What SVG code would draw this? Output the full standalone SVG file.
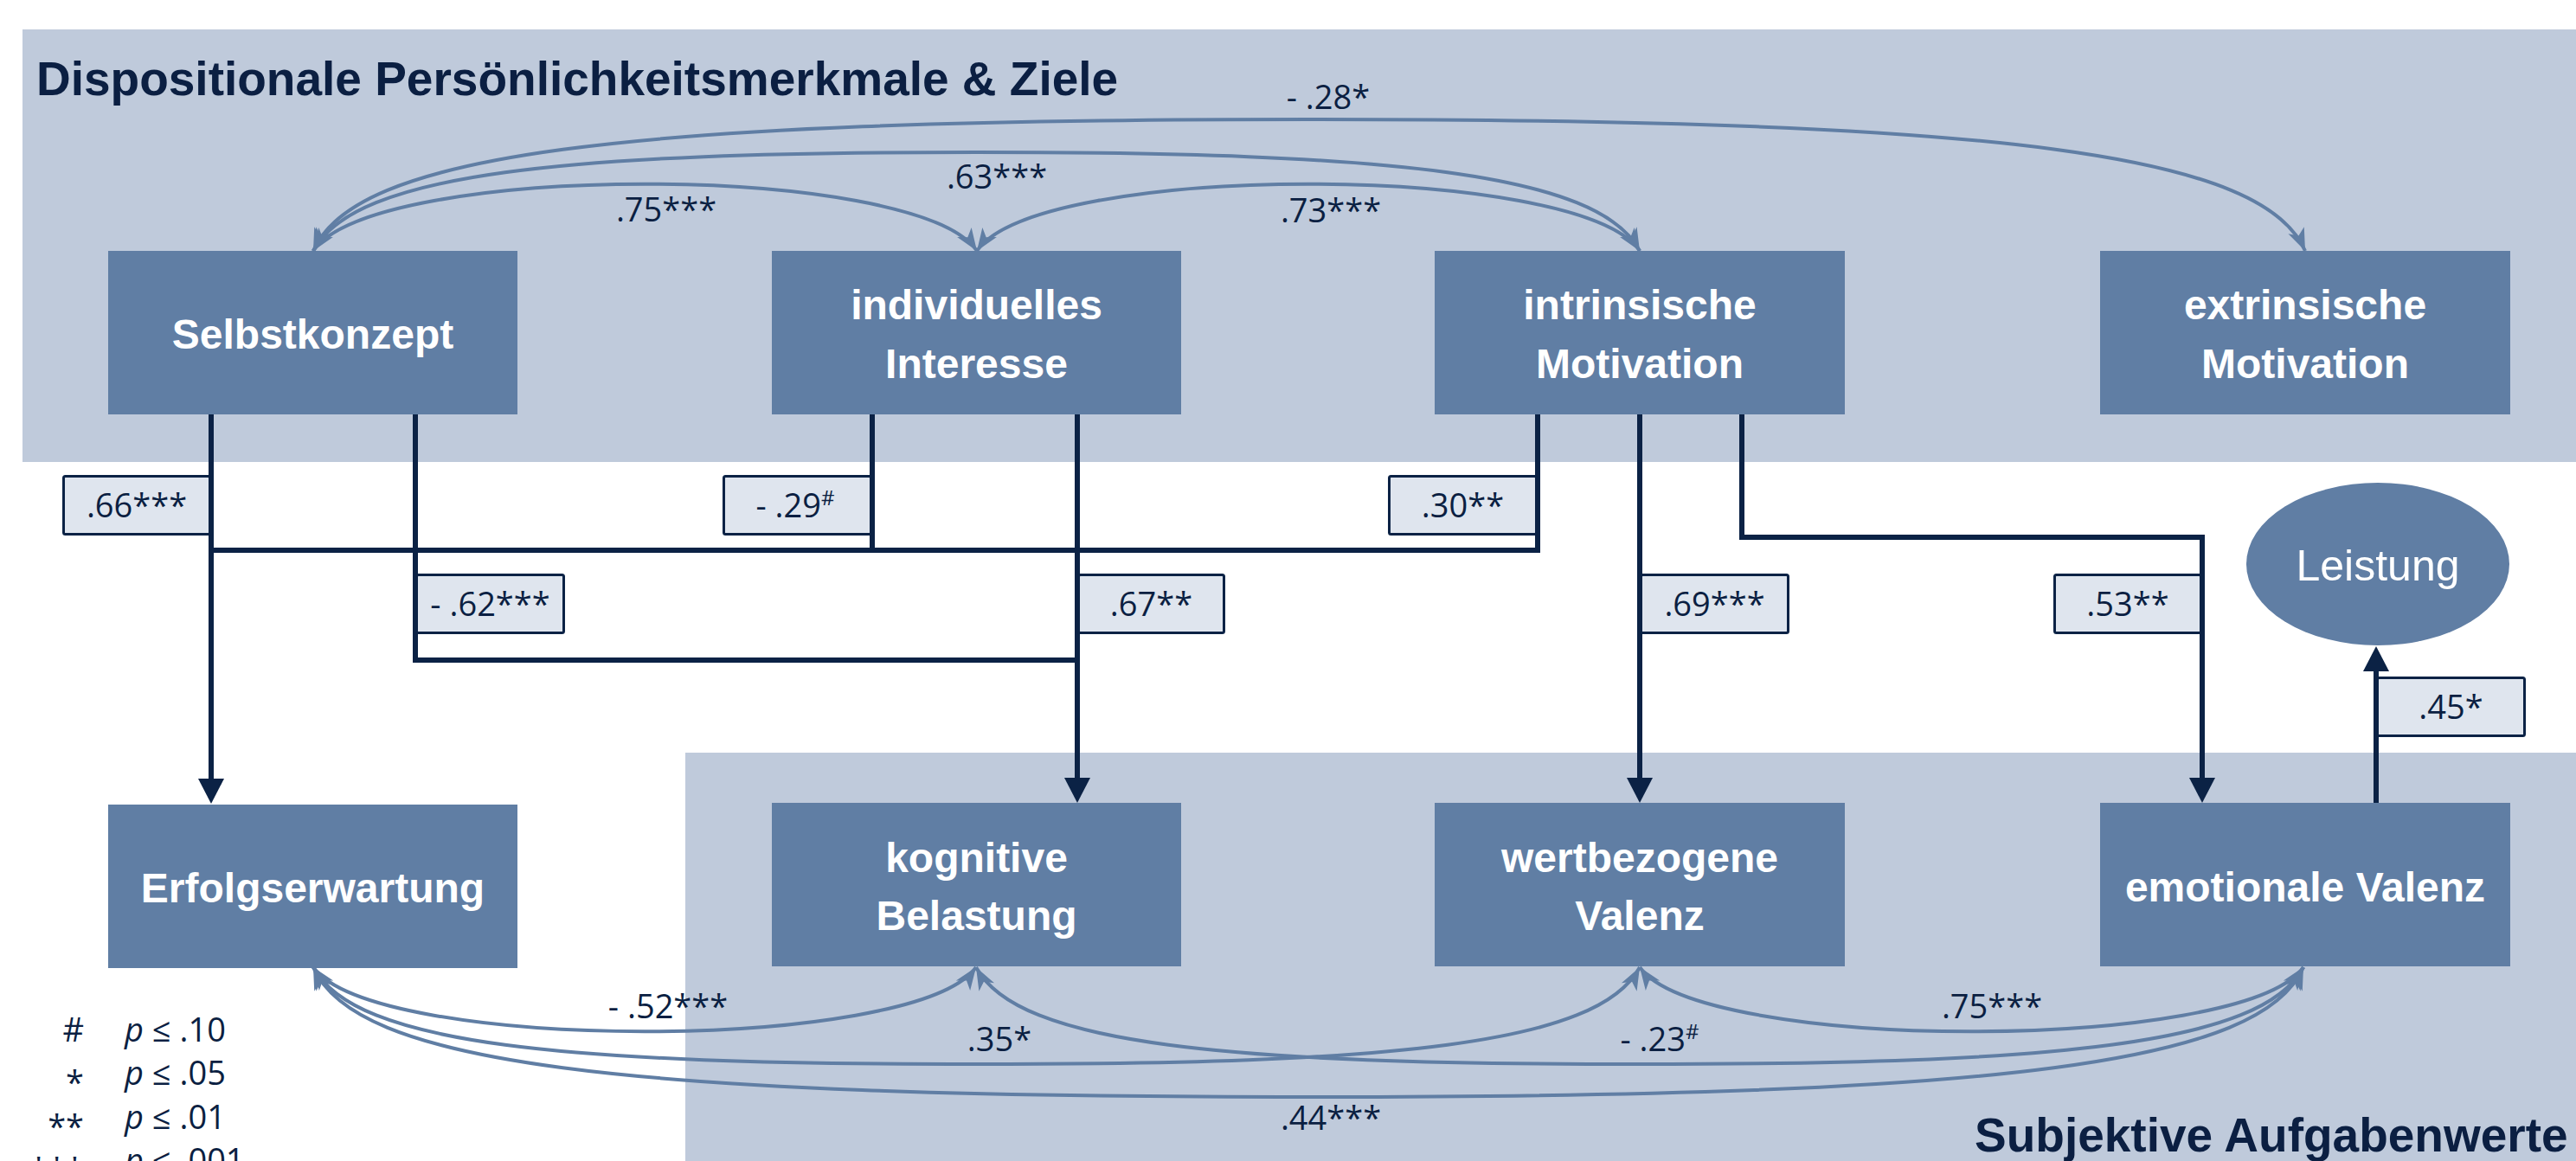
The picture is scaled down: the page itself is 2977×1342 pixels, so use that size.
<svg xmlns="http://www.w3.org/2000/svg" width="2977" height="1342" viewBox="0 0 2977 1342">
<defs>
<style>
.band{fill:#BFCADB}
.node{fill:#607EA4}
.nt{font-family:"Liberation Sans",Arial,sans-serif;font-weight:bold;font-size:48px;fill:#FFFFFF;text-anchor:middle}
.title{font-family:"Liberation Sans",Arial,sans-serif;font-weight:bold;font-size:55px;fill:#0B1F42}
.corr{fill:none;stroke:#607EA4;stroke-width:4;marker-start:url(#stealth);marker-end:url(#stealth)}
.path{fill:none;stroke:#0B2245;stroke-width:6}
.arr{marker-end:url(#ah)}
.lab{font-family:"Open Sans","Liberation Sans",sans-serif;font-size:38px;fill:#0B1F42;text-anchor:middle}
.lbox{fill:#DFE5EE;stroke:#0B2245;stroke-width:3}
.leg{font-family:"Open Sans","Liberation Sans",sans-serif;font-size:38px;fill:#0B1F42}
</style>
<marker id="ah" markerUnits="userSpaceOnUse" markerWidth="32" markerHeight="32" refX="2" refY="15" orient="auto" overflow="visible">
<path d="M0,0 L29,15 L0,30 Z" fill="#0B2245"/>
</marker>
<marker id="stealth" markerUnits="userSpaceOnUse" markerWidth="30" markerHeight="22" refX="26" refY="10" orient="auto-start-reverse" overflow="visible">
<path d="M0,0 L26,10 L0,20 L7,10 Z" fill="#607EA4"/>
</marker>
</defs>
<rect width="2977" height="1342" fill="#FFFFFF"/>
<g id="bands">
<rect class="band" x="26" y="34" width="2951" height="500"/>
<rect class="band" x="792" y="870" width="2185" height="472"/>
<text class="title" x="42" y="110">Dispositionale Persönlichkeitsmerkmale &amp; Ziele</text>
<text class="title" x="2282" y="1331">Subjektive Aufgabenwerte</text>
</g>
<g id="node-selbstkonzept">
<rect class="node" x="125" y="290" width="473" height="189"/>
<text class="nt" x="361.5" y="403">Selbstkonzept</text>
</g>
<g id="node-interesse">
<rect class="node" x="892" y="290" width="473" height="189"/>
<text class="nt" x="1128.5" y="369">individuelles</text>
<text class="nt" x="1128.5" y="437">Interesse</text>
</g>
<g id="node-intrinsisch">
<rect class="node" x="1658" y="290" width="474" height="189"/>
<text class="nt" x="1895" y="369">intrinsische</text>
<text class="nt" x="1895" y="437">Motivation</text>
</g>
<g id="node-extrinsisch">
<rect class="node" x="2427" y="290" width="474" height="189"/>
<text class="nt" x="2664" y="369">extrinsische</text>
<text class="nt" x="2664" y="437">Motivation</text>
</g>
<g id="node-erfolgserwartung">
<rect class="node" x="125" y="930" width="473" height="189"/>
<text class="nt" x="361.5" y="1043">Erfolgserwartung</text>
</g>
<g id="node-kognitiv">
<rect class="node" x="892" y="928" width="473" height="189"/>
<text class="nt" x="1128.5" y="1008">kognitive</text>
<text class="nt" x="1128.5" y="1075">Belastung</text>
</g>
<g id="node-wertbezogen">
<rect class="node" x="1658" y="928" width="474" height="189"/>
<text class="nt" x="1895" y="1008">wertbezogene</text>
<text class="nt" x="1895" y="1075">Valenz</text>
</g>
<g id="node-emotional">
<rect class="node" x="2427" y="928" width="474" height="189"/>
<text class="nt" x="2664" y="1042">emotionale Valenz</text>
</g>
<g id="node-leistung">
<ellipse class="node" cx="2748" cy="652" rx="152" ry="94"/>
<text x="2748" y="671" font-family="Liberation Sans, Arial, sans-serif" font-size="50" fill="#FFFFFF" text-anchor="middle">Leistung</text>
</g>
<g id="connectors">
<path class="corr" d="M362,290 C432,187 1059,187 1129,290"/>
<path class="corr" d="M1129,290 C1199,187 1825,187 1895,290"/>
<path class="corr" d="M362,290 C410,200 650,176 1128,176 C1606,176 1847,200 1895,290"/>
<path class="corr" d="M362,290 C410,180 700,138 1513,138 C2326,138 2616,180 2664,290"/>
<path class="corr" d="M362,1118 C432,1217 1058,1217 1128,1118"/>
<path class="corr" d="M362,1118 C410,1208 650,1230 1128,1230 C1606,1230 1847,1208 1895,1118"/>
<path class="corr" d="M1128,1118 C1176,1208 1417,1230 1895,1230 C2373,1230 2614,1208 2662,1118"/>
<path class="corr" d="M1895,1118 C1965,1217 2592,1217 2662,1118"/>
<path class="corr" d="M362,1118 C410,1228 700,1268 1512,1268 C2324,1268 2614,1228 2662,1118"/>
<path class="path arr" d="M244,479 V902"/>
<path class="path" d="M1777,479 V636 H244"/>
<path class="path" d="M1008,479 V636"/>
<path class="path" d="M480,479 V763 H1245"/>
<path class="path arr" d="M1245,479 V901"/>
<path class="path arr" d="M1895,479 V901"/>
<path class="path arr" d="M2013,479 V621 H2545 V901"/>
<path class="path arr" d="M2746,928 V774"/>
<text class="lab" x="1535" y="126">- .28*</text>
<text class="lab" x="1152" y="218">.63***</text>
<text class="lab" x="770" y="256">.75***</text>
<text class="lab" x="1538" y="257">.73***</text>
<text class="lab" x="772" y="1177">- .52***</text>
<text class="lab" x="1155" y="1215">.35*</text>
<text class="lab" x="1918" y="1215">- .23<tspan font-size="24" dy="-14">#</tspan></text>
<text class="lab" x="2302" y="1177">.75***</text>
<text class="lab" x="1538" y="1306">.44***</text>
<rect class="lbox" x="73.5" y="550.5" width="169" height="67" rx="2"/>
<text class="lab" x="158" y="597.5">.66***</text>
<rect class="lbox" x="836.5" y="550.5" width="170" height="67" rx="2"/>
<text class="lab" x="919" y="597.5">- .29<tspan font-size="24" dy="-14">#</tspan></text>
<rect class="lbox" x="1605.5" y="550.5" width="170" height="67" rx="2"/>
<text class="lab" x="1690.5" y="597.5">.30**</text>
<rect class="lbox" x="481.5" y="664.5" width="170" height="67" rx="2"/>
<text class="lab" x="566.5" y="711.5">- .62***</text>
<rect class="lbox" x="1246.5" y="664.5" width="168" height="67" rx="2"/>
<text class="lab" x="1330.5" y="711.5">.67**</text>
<rect class="lbox" x="1896.5" y="664.5" width="170" height="67" rx="2"/>
<text class="lab" x="1981.5" y="711.5">.69***</text>
<rect class="lbox" x="2374.5" y="664.5" width="169" height="67" rx="2"/>
<text class="lab" x="2459" y="711.5">.53**</text>
<rect class="lbox" x="2747.5" y="783.5" width="170" height="67" rx="2"/>
<text class="lab" x="2832.5" y="830.5">.45*</text>
</g>
<g id="legend">
<text class="leg" x="97" y="1204" font-size="26" text-anchor="end">#</text>
<text class="leg" x="97" y="1264.5" font-size="36" text-anchor="end">*</text>
<text class="leg" x="97" y="1315.5" font-size="36" text-anchor="end">**</text>
<text class="leg" x="97" y="1365.5" font-size="36" text-anchor="end">***</text>
<text class="leg" x="144" y="1204"><tspan font-style="italic">p</tspan> ≤ .10</text>
<text class="leg" x="144" y="1254"><tspan font-style="italic">p</tspan> ≤ .05</text>
<text class="leg" x="144" y="1305"><tspan font-style="italic">p</tspan> ≤ .01</text>
<text class="leg" x="144" y="1355"><tspan font-style="italic">p</tspan> ≤ .001</text>
</g>
</svg>
